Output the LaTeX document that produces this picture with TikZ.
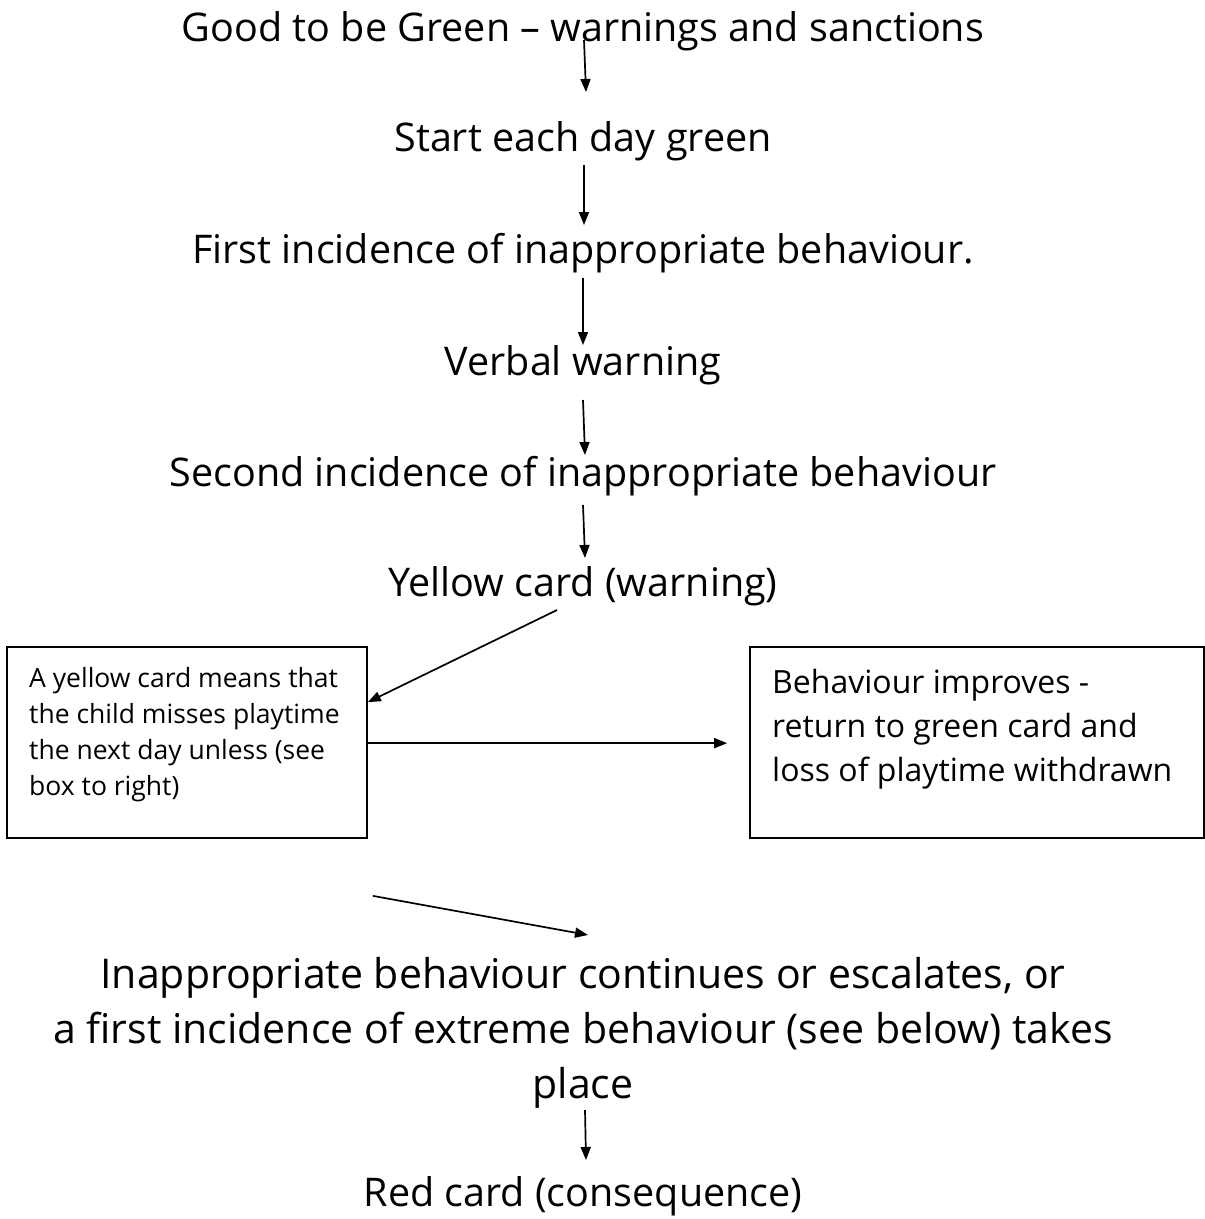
\documentclass[tikz,border=0pt]{standalone}
\usepackage{fontspec}
\setmainfont{Open Sans}
\usetikzlibrary{arrows.meta,calc}
\begin{document}
\begin{tikzpicture}[x=1pt,y=-1pt,
  arr/.style={-{Triangle[length=13pt,width=10pt]}, line width=1.7pt},
  big/.style={font=\fontsize{39.5}{55}\selectfont, inner sep=0, align=center},
  bigger/.style={font=\fontsize{41}{55}\selectfont, inner sep=0, align=center},
  boxa/.style={draw, line width=1.7pt, inner sep=0},
  smalltxt/.style={font=\fontsize{26.5}{36}\selectfont, inner sep=0, align=left, anchor=north west},
  midtxt/.style={font=\fontsize{32}{44}\selectfont, inner sep=0, align=left, anchor=north west}]
\useasboundingbox (0,0) rectangle (1205,1219);
\node[big] (t1) at (583,31) {Good to be Green – warnings and sanctions};
\node[big] (t2) at (583,141) {Start each day green};
\node[big] (t3) at (583,253) {First incidence of inappropriate behaviour.};
\node[big] (t4) at (583,365) {Verbal warning};
\node[big] (t5) at (583,476) {Second incidence of inappropriate behaviour};
\node[big] (t6) at (583,586) {Yellow card (warning)};
\node[boxa, minimum width=360pt, minimum height=191pt] (b1) at (187,742.5) {};
\node[smalltxt] (b1t) at (29,667) {A yellow card means that\\the child misses playtime\\the next day unless (see\\box to right)};
\node[boxa, minimum width=454pt, minimum height=191pt] (b2) at (977,742.5) {};
\node[midtxt] (b2t) at (772,669) {Behaviour improves -\\return to green card and\\loss of playtime withdrawn};
\node[bigger] (t7) at (583,1033) {Inappropriate behaviour continues or escalates, or\\a first incidence of extreme behaviour (see below) takes\\place};
\node[big] (t8) at (583,1196) {Red card (consequence)};
\draw[arr] ($(t1.center)+(1,9)$) -- ($(t2.center)+(3,-49)$);
\draw[arr] ($(t2.center)+(1,24)$) -- ($(t3.center)+(1,-28)$);
\draw[arr] ($(t3.center)+(0,25)$) -- ($(t4.center)+(0,-20)$);
\draw[arr] ($(t4.center)+(0,35)$) -- ($(t5.center)+(2,-21)$);
\draw[arr] ($(t5.center)+(0,29)$) -- ($(t6.center)+(2,-28)$);
\draw[arr] ($(t6.center)+(-26,24)$) -- ($(b1.north east)+(0,56)$);
\draw[arr] ($(b1.north east)+(0,97)$) -- ($(b2.north west)+(-22,97)$);
\draw[arr] ($(b1.south east)+(5,57)$) -- ($(t7.center)+(5,-98)$);
\draw[arr] ($(t7.center)+(2,77)$) -- ($(t8.center)+(3,-36)$);
\end{tikzpicture}
\end{document}
